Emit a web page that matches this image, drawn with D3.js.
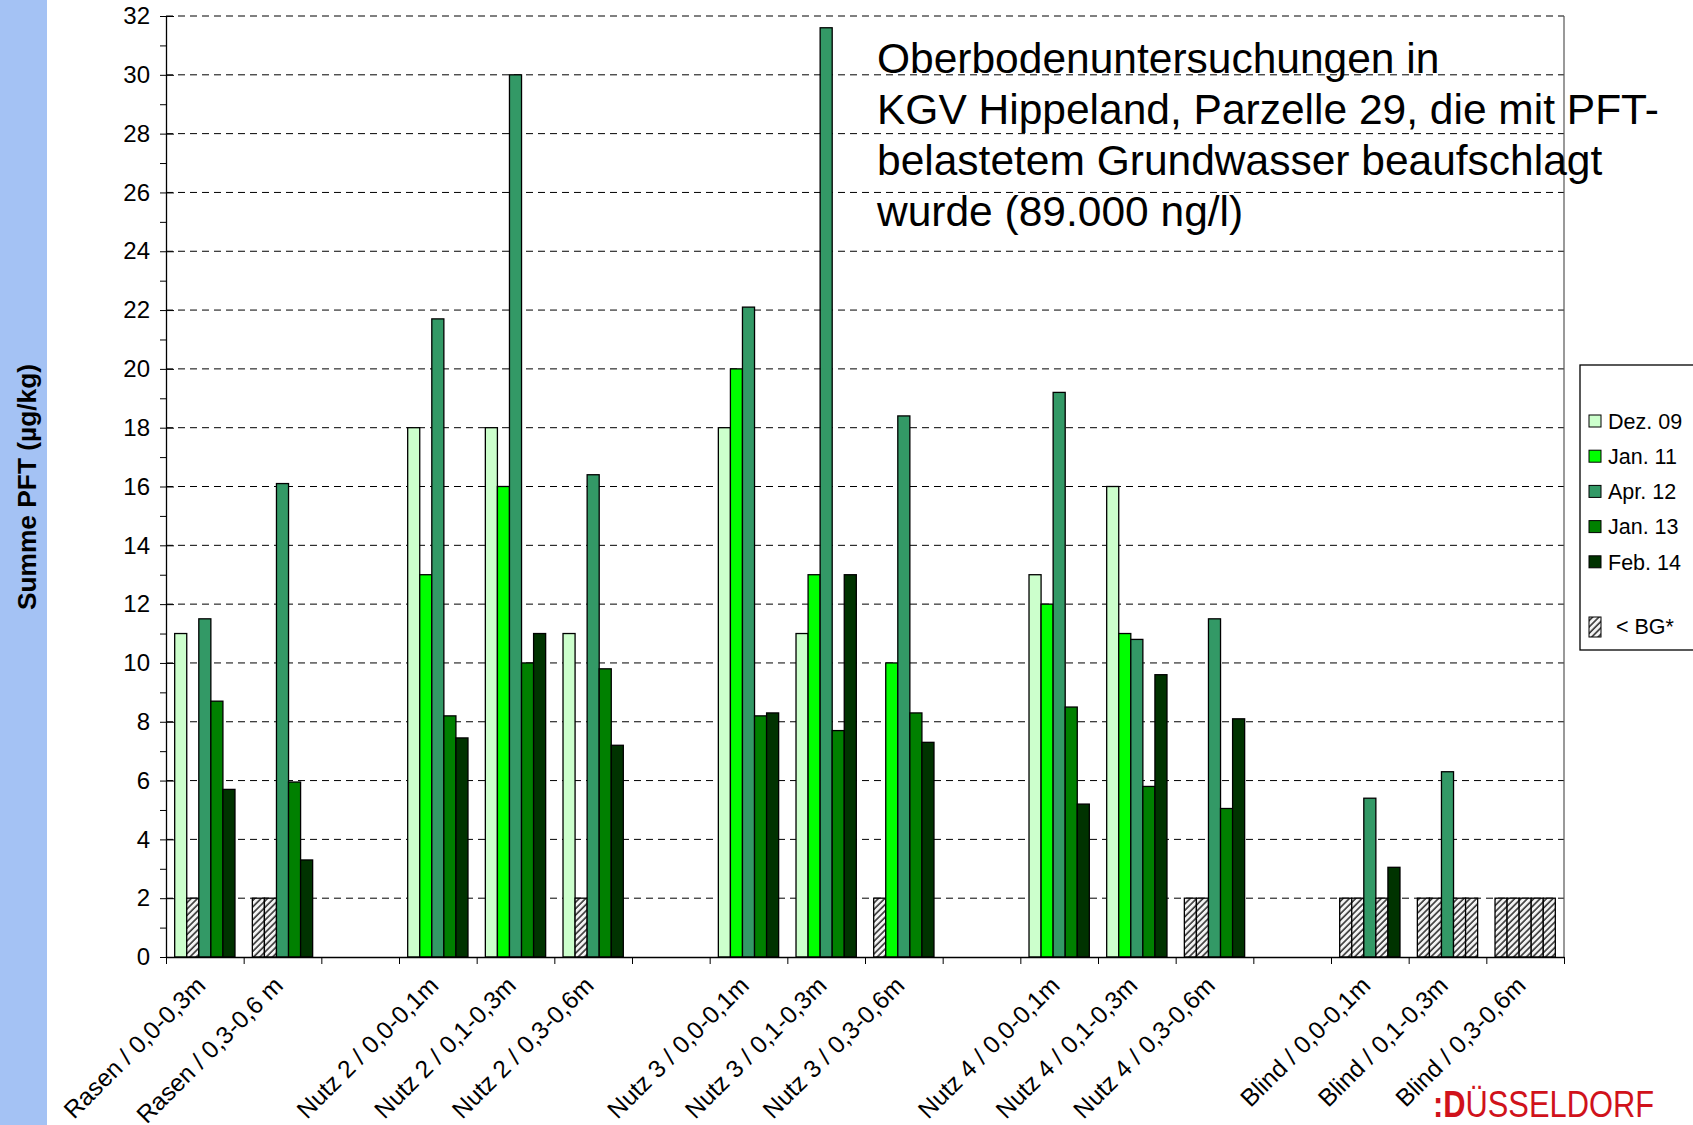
<!DOCTYPE html>
<html>
  <head>
    <meta charset="utf-8">
    <title>Oberbodenuntersuchungen KGV Hippeland</title>
    <!-- Include D3.js library -->
    <script src="https://d3js.org/d3.v7.min.js"></script>
    <style>
      body {
        margin: 0;
        background: white;
      }
      svg {
        display: block;
        font-family: "Liberation Sans", Arial, sans-serif;
      }
      .grid line {
        stroke: black;
        stroke-width: 1;
        stroke-dasharray: 7, 5;
      }
      .bar {
        stroke: black;
        stroke-width: 1.3;
      }
    </style>
  </head>
  <body>
    <svg width="1693" height="1125"></svg>
    <script>
      // Categories (empty strings are the spacer slots between the groups)
      var categories = [
        "Rasen / 0,0-0,3m",
        "Rasen / 0,3-0,6 m",
        "",
        "Nutz 2 / 0,0-0,1m",
        "Nutz 2 / 0,1-0,3m",
        "Nutz 2 / 0,3-0,6m",
        "",
        "Nutz 3 / 0,0-0,1m",
        "Nutz 3 / 0,1-0,3m",
        "Nutz 3 / 0,3-0,6m",
        "",
        "Nutz 4 / 0,0-0,1m",
        "Nutz 4 / 0,1-0,3m",
        "Nutz 4 / 0,3-0,6m",
        "",
        "Blind / 0,0-0,1m",
        "Blind / 0,1-0,3m",
        "Blind / 0,3-0,6m",
      ];

      var seriesNames = ["Dez. 09", "Jan. 11", "Apr. 12", "Jan. 13", "Feb. 14"];
      var seriesColors = ["#ccffcc", "#00ff00", "#339966", "#008000", "#003300"];

      // Values in µg/kg, "BG" = below the detection limit (< BG), null = no bar
      var dez09 = [11, "BG", null, 18, 18, 11, null, 18, 11, "BG", null, 13, 16, "BG", null, "BG", "BG", "BG"];
      var jan11 = ["BG", "BG", null, 13, 16, "BG", null, 20, 13, 10, null, 12, 11, "BG", null, "BG", "BG", "BG"];
      var apr12 = [11.5, 16.1, null, 21.7, 30, 16.4, null, 22.1, 31.6, 18.4, null, 19.2, 10.8, 11.5, null, 5.4, 6.3, "BG"];
      var jan13 = [8.7, 5.95, null, 8.2, 10, 9.8, null, 8.2, 7.7, 8.3, null, 8.5, 5.8, 5.05, null, "BG", "BG", "BG"];
      var feb14 = [5.7, 3.3, null, 7.45, 11, 7.2, null, 8.3, 13, 7.3, null, 5.2, 9.6, 8.1, null, 3.05, "BG", "BG"];
      var seriesValues = [dez09, jan11, apr12, jan13, feb14];

      // Height drawn for "< BG" bars
      var bgLevel = 2;

      var yTicks = [0, 2, 4, 6, 8, 10, 12, 14, 16, 18, 20, 22, 24, 26, 28, 30, 32];
      var yMinorTicks = [1, 3, 5, 7, 9, 11, 13, 15, 17, 19, 21, 23, 25, 27, 29, 31];

      var titleLines = [
        "Oberbodenuntersuchungen in",
        "KGV Hippeland, Parzelle 29, die mit PFT-",
        "belastetem Grundwasser beaufschlagt",
        "wurde (89.000 ng/l)",
      ];

      // Plot area
      var plot = { left: 166, right: 1564, top: 16, bottom: 957 };

      var svg = d3.select("svg");

      // Hatch pattern for the < BG bars
      var defs = svg.append("defs");
      var hatch = defs
        .append("pattern")
        .attr("id", "hatch")
        .attr("patternUnits", "userSpaceOnUse")
        .attr("width", 4.5)
        .attr("height", 4.5)
        .attr("patternTransform", "rotate(45)");
      hatch.append("rect").attr("width", 4.5).attr("height", 4.5).attr("fill", "#f4f4f4");
      hatch
        .append("line")
        .attr("x1", 1)
        .attr("y1", 0)
        .attr("x2", 1)
        .attr("y2", 4.5)
        .attr("stroke", "#333")
        .attr("stroke-width", 1.6);

      // Blue strip on the left
      svg.append("rect").attr("x", 0).attr("y", 0).attr("width", 47).attr("height", 1125).attr("fill", "#a4c2f4");

      // Scales
      var x = d3
        .scaleBand()
        .domain(d3.range(categories.length))
        .range([plot.left, plot.right])
        .padding(0);

      var x1 = d3
        .scaleBand()
        .domain(seriesNames)
        .range([0, x.bandwidth()])
        .paddingInner(0)
        .paddingOuter(0.72);

      var xEdge = d3
        .scaleLinear()
        .domain([0, categories.length])
        .range([plot.left, plot.right]);

      var y = d3.scaleLinear().domain([0, 32]).range([plot.bottom, plot.top]);

      // Dashed gridlines
      svg
        .append("g")
        .attr("class", "grid")
        .selectAll("line")
        .data(yTicks.filter(function (d) { return d > 0; }))
        .enter()
        .append("line")
        .attr("x1", plot.left)
        .attr("x2", plot.right)
        .attr("y1", function (d) { return y(d); })
        .attr("y2", function (d) { return y(d); });

      // Right border of the plot area
      svg
        .append("line")
        .attr("x1", plot.right)
        .attr("x2", plot.right)
        .attr("y1", plot.top)
        .attr("y2", plot.bottom)
        .attr("stroke", "#555")
        .attr("stroke-width", 1.2);

      // Bars
      seriesValues.forEach(function (values, s) {
        svg
          .append("g")
          .selectAll("rect")
          .data(values.map(function (v, i) { return { i: i, v: v }; }).filter(function (d) { return d.v !== null; }))
          .enter()
          .append("rect")
          .attr("class", "bar")
          .attr("x", function (d) { return x(d.i) + x1(seriesNames[s]); })
          .attr("width", x1.bandwidth())
          .attr("y", function (d) { return y(d.v === "BG" ? bgLevel : d.v); })
          .attr("height", function (d) { return y(0) - y(d.v === "BG" ? bgLevel : d.v); })
          .attr("fill", function (d) { return d.v === "BG" ? "url(#hatch)" : seriesColors[s]; });
      });

      // Y axis with minor ticks
      svg
        .append("g")
        .attr("transform", "translate(" + plot.left + ",0)")
        .call(d3.axisLeft(y).tickValues(yMinorTicks).tickSize(6).tickSizeOuter(0).tickFormat(""))
        .call(function (g) { g.select(".domain").remove(); });

      var yAxis = svg
        .append("g")
        .attr("transform", "translate(" + plot.left + ",0)")
        .call(d3.axisLeft(y).tickValues(yTicks).tickSize(6).tickSizeOuter(0).tickPadding(10));
      yAxis.selectAll(".tick line").attr("x1", 8);
      yAxis.selectAll("text").style("font-size", "24px").style("font-family", "Liberation Sans, Arial, sans-serif");
      yAxis.select(".domain").attr("stroke-width", 1.3);

      // X axis: ticks on the slot edges
      svg
        .append("g")
        .attr("transform", "translate(0," + plot.bottom + ")")
        .call(d3.axisBottom(xEdge).tickValues(d3.range(categories.length + 1)).tickSize(7).tickSizeOuter(0).tickFormat(""))
        .select(".domain")
        .attr("stroke-width", 1.3);

      // X labels, rotated
      var xLabels = svg
        .append("g")
        .attr("transform", "translate(0," + plot.bottom + ")")
        .call(d3.axisBottom(x).tickSize(0).tickFormat(function (i) { return categories[i]; }));
      xLabels.select(".domain").remove();
      xLabels
        .selectAll("text")
        .attr("x", 0)
        .attr("y", 0)
        .attr("dy", 0)
        .attr("transform", "translate(2,30) rotate(-45)")
        .style("text-anchor", "end")
        .style("font-size", "24.5px")
        .style("font-family", "Liberation Sans, Arial, sans-serif");

      // Y axis title
      svg
        .append("text")
        .attr("transform", "translate(36,487) rotate(-90)")
        .style("text-anchor", "middle")
        .style("font-size", "26.3px")
        .style("font-weight", "bold")
        .text("Summe PFT (µg/kg)");

      // Chart title inside the plot
      svg
        .append("g")
        .selectAll("text")
        .data(titleLines)
        .enter()
        .append("text")
        .attr("x", 877)
        .attr("y", function (d, i) { return 73 + i * 51; })
        .style("font-size", "42.5px")
        .text(function (d) { return d; });

      // Legend
      var legend = svg.append("g").attr("class", "legend");
      legend
        .append("rect")
        .attr("x", 1580)
        .attr("y", 365)
        .attr("width", 140)
        .attr("height", 285)
        .attr("fill", "white")
        .attr("stroke", "black")
        .attr("stroke-width", 1.3);

      var legendItems = legend
        .selectAll(".legend-item")
        .data(seriesNames)
        .enter()
        .append("g")
        .attr("class", "legend-item")
        .attr("transform", function (d, i) { return "translate(1589," + (421 + i * 35.2) + ")"; });

      legendItems
        .append("rect")
        .attr("x", 0)
        .attr("y", -6)
        .attr("width", 12)
        .attr("height", 12)
        .attr("stroke", "black")
        .attr("stroke-width", 1)
        .attr("fill", function (d, i) { return seriesColors[i]; });

      legendItems
        .append("text")
        .attr("x", 19)
        .attr("dy", "0.36em")
        .style("font-size", "21.5px")
        .text(function (d) { return d; });

      legend
        .append("rect")
        .attr("x", 1589)
        .attr("y", 617)
        .attr("width", 12)
        .attr("height", 20)
        .attr("fill", "url(#hatch)")
        .attr("stroke", "black")
        .attr("stroke-width", 1);

      legend
        .append("text")
        .attr("x", 1616)
        .attr("y", 634)
        .style("font-size", "21.5px")
        .text("< BG*");

      // City logo
      var logo = svg
        .append("text")
        .attr("x", 1433)
        .attr("y", 1117)
        .attr("textLength", 221)
        .attr("lengthAdjust", "spacingAndGlyphs")
        .style("font-size", "36px")
        .style("fill", "#d0121b");
      logo.append("tspan").style("font-weight", "bold").text(":D");
      logo.append("tspan").text("ÜSSELDORF");
    </script>
  </body>
</html>
